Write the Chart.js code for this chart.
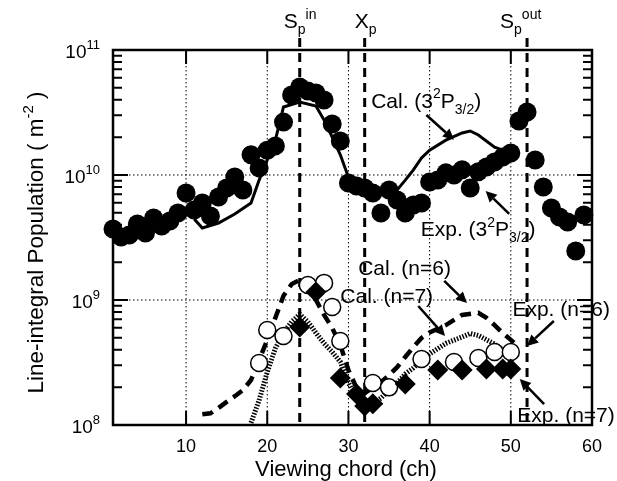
<!DOCTYPE html>
<html>
<head>
<meta charset="utf-8">
<script src="https://cdn.jsdelivr.net/npm/chart.js@4.4.1/dist/chart.umd.min.js"></script>
<style>
  html, body { margin: 0; padding: 0; background: #fff; }
</style>
</head>
<body>
<canvas id="chart" width="617" height="481"></canvas>
<script>
// measured: Exp. (3^2P3/2), filled circles
const chExp32 = [1, 2, 3, 4, 5, 6, 7, 8, 9, 10, 11, 12, 13, 14, 15, 16, 17, 18, 19, 20,
                 21, 22, 23, 24, 25, 26, 27, 28, 29, 30, 31, 32, 33, 34, 35, 36, 37, 38, 39, 40,
                 41, 42, 43, 44, 45, 46, 47, 48, 49, 50, 51, 52, 53, 54, 55, 56, 57, 58, 59];
const valExp32 = [3.70e9, 3.19e9, 3.31e9, 4.06e9, 3.44e9, 4.53e9, 3.91e9, 4.29e9, 4.97e9, 7.18e9,
                  5.25e9, 5.97e9, 4.70e9, 6.67e9, 7.87e9, 9.64e9, 7.59e9, 1.45e10, 1.14e10, 1.58e10,
                  1.71e10, 2.65e10, 4.37e10, 5.06e10, 4.70e10, 4.53e10, 3.98e10, 2.56e10, 1.87e10, 8.63e9,
                  8.17e9, 7.87e9, 7.18e9, 4.97e9, 7.59e9, 6.31e9, 4.97e9, 5.75e9, 5.97e9, 8.79e9,
                  9.12e9, 1.04e10, 1.00e10, 1.10e10, 7.87e9, 1.06e10, 1.16e10, 1.27e10, 1.39e10, 1.50e10,
                  2.70e10, 3.19e10, 1.32e10, 8.02e9, 5.45e9, 4.61e9, 4.21e9, 2.47e9, 4.79e9];

// calculated 3^2P3/2, solid line
const chCal32 = [11, 12, 14, 16, 18, 19, 20, 21, 22, 24, 26, 27, 28, 29, 30, 31, 33, 35, 36, 37,
                 38, 39, 40, 42, 44, 45, 46, 48, 49, 50];
const valCal32 = [4.45e9, 3.77e9, 4.13e9, 4.88e9, 5.97e9, 9.1e9, 1.32e10, 1.9e10, 3.5e10, 3.84e10,
                  3.56e10, 2.75e10, 2.01e10, 1.45e10, 9.6e9, 8.96e9, 7.87e9, 6.9e9, 7.6e9, 9.1e9,
                  1.1e10, 1.37e10, 1.58e10, 1.9e10, 2.17e10, 2.25e10, 2.09e10, 1.67e10, 1.58e10, 1.52e10];

// calculated n=6, dashed line
const chCal6 = [12, 13, 14, 15, 16, 17, 18, 19, 20, 21, 22, 23, 24, 25, 26, 27, 28, 29, 30, 31,
                32, 33, 34, 35, 36, 37, 38, 39, 40, 42, 44, 46, 47, 48, 49, 50, 51];
const valCal6 = [1.22e8, 1.24e8, 1.37e8, 1.53e8, 1.7e8, 1.9e8, 2.29e8, 3.3e8, 4.8e8, 7.2e8,
                 1.08e9, 1.34e9, 1.45e9, 1.2e9, 1.0e9, 7.6e8, 5.97e8, 4.37e8, 2.75e8, 1.98e8,
                 1.8e8, 1.98e8, 2.2e8, 2.5e8, 2.9e8, 3.5e8, 4.2e8, 4.97e8, 5.5e8, 6.3e8,
                 7.6e8, 7.9e8, 7.2e8, 6.3e8, 5.45e8, 4.8e8, 4.2e8];

// calculated n=7, dotted line
const chCal7 = [18, 19, 20, 21, 22, 23, 24, 25, 26, 27, 28, 29, 30, 31, 32, 33, 34, 35, 36, 37,
                38, 39, 40, 42, 44, 45, 46, 48, 49, 50];
const valCal7 = [1.04e8, 1.58e8, 2.65e8, 4.1e8, 5.45e8, 6.7e8, 7.7e8, 6.7e8, 5.45e8, 4.5e8,
                 3.84e8, 3.2e8, 2.17e8, 1.64e8, 1.5e8, 1.48e8, 1.64e8, 1.9e8, 2.17e8, 2.56e8,
                 2.86e8, 3.3e8, 3.7e8, 4.5e8, 5.06e8, 5.4e8, 5.2e8, 4.45e8, 3.98e8, 3.84e8];

// measured n=6, open circles
const chExp6 = [19, 20, 22, 25, 27, 28, 29, 33, 35, 39, 43, 46, 48, 50];
const valExp6 = [3.13e8, 5.75e8, 5.15e8, 1.32e9, 1.37e9, 8.8e8, 4.7e8, 2.17e8, 2.0e8, 3.37e8,
                 3.19e8, 3.44e8, 3.84e8, 3.84e8];

// measured n=7, diamonds
const chExp7 = [24, 26, 29, 31, 32, 33, 37, 41, 44, 47, 49, 50];
const valExp7 = [6.08e8, 1.16e9, 2.38e8, 1.77e8, 1.42e8, 1.48e8, 2.13e8, 2.75e8, 2.75e8, 2.8e8,
                 2.8e8, 2.8e8];

const xTicks = [10, 20, 30, 40, 50, 60];
const yDecades = [8, 9, 10, 11];
const xGrid = [10, 20, 30, 40, 50];
const yGrid = [1e9, 1e10];

// vertical markers: S_p^in, X_p, S_p^out
const markerCh = [24, 32, 52];
const markerLabels = [
  [['S', 'n'], ['p', 'sub'], ['in', 'sup']],
  [['X', 'n'], ['p', 'sub']],
  [['S', 'n'], ['p', 'sub'], ['out', 'sup']]
];
const markerShift = [-16, -10, -27];

// annotations: text anchor and arrow tail/head in data units
const noteText = [
  [['Cal. (3', 'n'], ['2', 'sup'], ['P', 'n'], ['3/2', 'sub'], [')', 'n']],
  [['Exp. (3', 'n'], ['2', 'sup'], ['P', 'n'], ['3/2', 'sub'], [')', 'n']],
  [['Cal. (n=6)', 'n']],
  [['Cal. (n=7)', 'n']],
  [['Exp. (n=6)', 'n']],
  [['Exp. (n=7)', 'n']]
];
const noteAt = [[32.8, 3.44e10], [38.9, 3.25e9], [31.2, 1.58e9], [29.0, 9.46e8], [50.2, 7.45e8], [50.8, 1.06e8]];
const arrowFrom = [[39.6, 3.02e10], [49.8, 4.88e9], [41.8, 1.42e9], [38.6, 8.95e8], [55.3, 6.79e8], [54.1, 1.47e8]];
const arrowTo = [[43.0, 1.91e10], [46.9, 7.45e9], [44.6, 9.46e8], [41.9, 5.15e8], [52.0, 4.29e8], [51.1, 2.33e8]];

const FONT = '"Liberation Sans", Arial, Helvetica, sans-serif';
const pts = (xs, ys) => xs.map((x, i) => ({ x: x, y: ys[i] }));

function richWidth(ctx, parts, size) {
  let w = 0;
  parts.forEach(([t, k]) => {
    ctx.font = (k === 'n' ? size : Math.round(size * 0.68)) + 'px ' + FONT;
    w += ctx.measureText(t).width;
  });
  return w;
}

function drawRich(ctx, parts, x, y, size, align) {
  let cx = x;
  if (align === 'right') cx -= richWidth(ctx, parts, size);
  if (align === 'center') cx -= richWidth(ctx, parts, size) / 2;
  ctx.textAlign = 'left';
  ctx.textBaseline = 'alphabetic';
  parts.forEach(([t, k]) => {
    let dy = 0;
    if (k === 'n') {
      ctx.font = size + 'px ' + FONT;
    } else {
      ctx.font = Math.round(size * 0.68) + 'px ' + FONT;
      dy = k === 'sup' ? -size * 0.45 : size * 0.3;
    }
    ctx.fillText(t, cx, y + dy);
    cx += ctx.measureText(t).width;
  });
}

const decor = {
  id: 'decor',
  beforeDatasetsDraw(chart) {
    const { ctx, chartArea: a, scales: { x, y } } = chart;
    ctx.save();
    ctx.strokeStyle = '#000';
    // dotted grid
    ctx.lineWidth = 1;
    ctx.setLineDash([1.5, 2.5]);
    ctx.beginPath();
    xGrid.forEach(v => { const px = x.getPixelForValue(v); ctx.moveTo(px, a.top); ctx.lineTo(px, a.bottom); });
    yGrid.forEach(v => { const py = y.getPixelForValue(v); ctx.moveTo(a.left, py); ctx.lineTo(a.right, py); });
    ctx.stroke();
    // thick dashed separatrix lines
    ctx.lineWidth = 3;
    ctx.setLineDash([9, 6]);
    ctx.beginPath();
    markerCh.forEach(v => { const px = x.getPixelForValue(v); ctx.moveTo(px, a.top - 12); ctx.lineTo(px, a.bottom); });
    ctx.stroke();
    ctx.restore();
  },
  afterDatasetsDraw(chart) {
    const { ctx, chartArea: a, scales: { x, y } } = chart;
    ctx.save();
    ctx.strokeStyle = '#000';
    ctx.fillStyle = '#000';
    ctx.setLineDash([]);
    // frame
    ctx.lineWidth = 2.5;
    ctx.strokeRect(a.left, a.top, a.right - a.left, a.bottom - a.top);
    // x ticks, inward on top and bottom
    ctx.lineWidth = 2;
    ctx.beginPath();
    xTicks.forEach(v => {
      const px = x.getPixelForValue(v);
      ctx.moveTo(px, a.bottom); ctx.lineTo(px, a.bottom - 14);
      ctx.moveTo(px, a.top); ctx.lineTo(px, a.top + 14);
    });
    // y ticks (log), inward on left and right
    yDecades.forEach((d, i) => {
      for (let m = 1; m <= 9; m++) {
        if (i === yDecades.length - 1 && m > 1) break;
        const py = y.getPixelForValue(m * Math.pow(10, d));
        const len = m === 1 ? 15 : 9;
        ctx.moveTo(a.left, py); ctx.lineTo(a.left + len, py);
        ctx.moveTo(a.right, py); ctx.lineTo(a.right - len, py);
      }
    });
    ctx.stroke();

    // tick labels
    ctx.font = '18px ' + FONT;
    ctx.textAlign = 'center';
    ctx.textBaseline = 'alphabetic';
    xTicks.forEach(v => ctx.fillText(String(v), x.getPixelForValue(v), a.bottom + 27));
    yDecades.forEach(d => {
      drawRich(ctx, [['10', 'n'], [String(d), 'sup']], a.left - 13, y.getPixelForValue(Math.pow(10, d)) + 8, 19, 'right');
    });

    // axis titles
    ctx.font = '22px ' + FONT;
    ctx.textAlign = 'center';
    ctx.fillText('Viewing chord (ch)', 346, a.bottom + 51);
    ctx.save();
    ctx.translate(43, (a.top + a.bottom) / 2 + 5);
    ctx.rotate(-Math.PI / 2);
    drawRich(ctx, [['Line-integral Population ( m', 'n'], ['-2', 'sup'], [' )', 'n']], 0, 0, 22.5, 'center');
    ctx.restore();

    // separatrix labels above the frame
    markerCh.forEach((v, i) => {
      drawRich(ctx, markerLabels[i], x.getPixelForValue(v) + markerShift[i], a.top - 22, 21, 'left');
    });

    // annotations with arrows
    noteText.forEach((parts, i) => {
      drawRich(ctx, parts, x.getPixelForValue(noteAt[i][0]), y.getPixelForValue(noteAt[i][1]), 21, 'left');
      const x0 = x.getPixelForValue(arrowFrom[i][0]), y0 = y.getPixelForValue(arrowFrom[i][1]);
      const x1 = x.getPixelForValue(arrowTo[i][0]), y1 = y.getPixelForValue(arrowTo[i][1]);
      const ang = Math.atan2(y1 - y0, x1 - x0);
      const hl = 11, hw = 5.5;
      const bx = x1 - hl * Math.cos(ang), by = y1 - hl * Math.sin(ang);
      ctx.lineWidth = 2.5;
      ctx.beginPath(); ctx.moveTo(x0, y0); ctx.lineTo(bx, by); ctx.stroke();
      ctx.beginPath();
      ctx.moveTo(x1, y1);
      ctx.lineTo(bx + hw * Math.sin(ang), by - hw * Math.cos(ang));
      ctx.lineTo(bx - hw * Math.sin(ang), by + hw * Math.cos(ang));
      ctx.closePath();
      ctx.fill();
    });
    ctx.restore();
  }
};

new Chart(document.getElementById('chart'), {
  type: 'scatter',
  data: {
    datasets: [
      { label: 'Cal. (3^2P3/2)', data: pts(chCal32, valCal32), showLine: true, borderColor: '#000',
        borderWidth: 3, pointRadius: 0, order: 5 },
      { label: 'Cal. (n=6)', data: pts(chCal6, valCal6), showLine: true, borderColor: '#000',
        borderWidth: 4.5, borderDash: [11, 7], pointRadius: 0, order: 4 },
      { label: 'Cal. (n=7)', data: pts(chCal7, valCal7), showLine: true, borderColor: '#000',
        borderWidth: 5, borderDash: [1.5, 1.5], pointRadius: 0, order: 3 },
      { label: 'Exp. (3^2P3/2)', data: pts(chExp32, valExp32), backgroundColor: '#000', borderWidth: 0,
        pointRadius: 9.5, clip: false, order: 6 },
      { label: 'Exp. (n=6)', data: pts(chExp6, valExp6), backgroundColor: '#fff', borderColor: '#000',
        borderWidth: 1.5, pointRadius: 8.5, order: 2 },
      { label: 'Exp. (n=7)', data: pts(chExp7, valExp7), pointStyle: 'rectRot', backgroundColor: '#000',
        borderWidth: 0, pointRadius: 10.5, order: 1 }
    ]
  },
  options: {
    responsive: false,
    animation: false,
    devicePixelRatio: 1,
    layout: { padding: { left: 113, right: 25, top: 50, bottom: 56 } },
    scales: {
      x: { type: 'linear', min: 1, max: 60, display: false },
      y: { type: 'logarithmic', min: 1e8, max: 1e11, display: false }
    },
    plugins: { legend: { display: false }, tooltip: { enabled: false } }
  },
  plugins: [decor]
});
</script>
</body>
</html>
